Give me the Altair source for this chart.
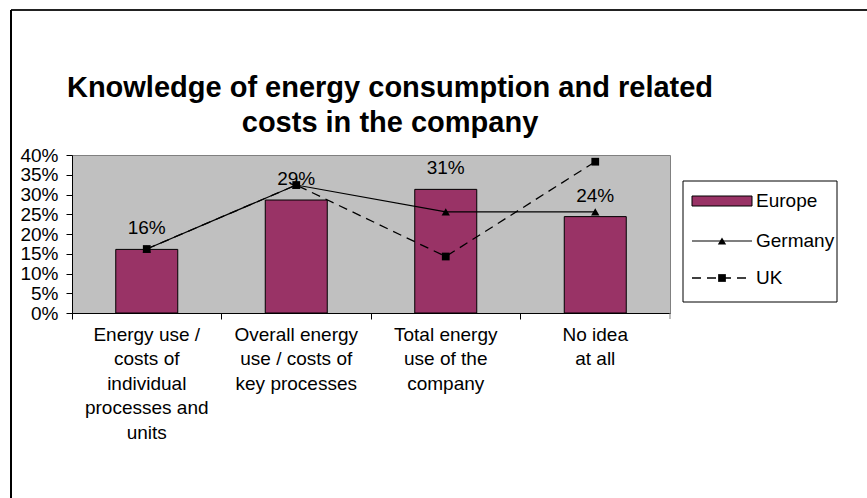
import altair as alt
import pandas as pd

categories = [
    "Energy use /\ncosts of\nindividual\nprocesses and\nunits",
    "Overall energy\nuse / costs of\nkey processes",
    "Total energy\nuse of the\ncompany",
    "No idea\nat all",
]
europe = [0.161, 0.286, 0.313, 0.244]
germany = [0.162, 0.324, 0.256, 0.256]
uk = [0.162, 0.324, 0.143, 0.383]
series_names = ["Europe", "Germany", "UK"]
title_lines = ["Knowledge of energy consumption and related", "costs  in the company"]
y_ticks = [0, 0.05, 0.10, 0.15, 0.20, 0.25, 0.30, 0.35, 0.40]

FONT = "Liberation Sans"
W, H = 598, 158

df_bar = pd.DataFrame({"cat": categories, "v": europe})
df_de = pd.DataFrame({"cat": categories, "v": germany})
df_uk = pd.DataFrame({"cat": categories, "v": uk})

xaxis = alt.Axis(
    title=None,
    labelAngle=0,
    labelExpr="split(datum.label, '\\n')",
    labelFont=FONT,
    labelFontSize=19,
    labelColor="#000000",
    labelLineHeight=24.5,
    labelPadding=6,
    labelLimit=200,
    bandPosition=0,
    tickSize=6,
    tickColor="#000000",
    domainColor="#000000",
    grid=False,
)
xscale = alt.Scale(domain=categories, paddingInner=0, paddingOuter=0)
xenc = alt.X("cat:N", sort=categories, scale=xscale, axis=xaxis)

yaxis = alt.Axis(
    title=None,
    values=y_ticks,
    format=".0%",
    labelFont=FONT,
    labelFontSize=19,
    labelColor="#000000",
    labelPadding=8,
    labelOverlap=False,
    labelFlush=False,
    tickSize=6,
    tickColor="#000000",
    domainColor="#000000",
    grid=False,
)
yscale = alt.Scale(domain=[0, 0.4], nice=False, zero=True)
yenc = alt.Y("v:Q", scale=yscale, axis=yaxis)

bars = alt.Chart(df_bar).mark_bar(
    size=62, color="#993366", stroke="#000000", strokeWidth=1
).encode(x=xenc, y=yenc)

bar_labels = alt.Chart(df_bar).mark_text(
    font=FONT, fontSize=19, baseline="middle", dy=-21, color="#000000"
).encode(x=xenc, y=yenc, text=alt.Text("v:Q", format=".0%"))

de_line = alt.Chart(df_de).mark_line(color="#000000", strokeWidth=1.2).encode(x=xenc, y=yenc)
de_pts = alt.Chart(df_de).mark_point(
    shape="triangle-up", filled=True, color="#000000", size=70, opacity=1
).encode(x=xenc, y=yenc)

uk_line = alt.Chart(df_uk).mark_line(
    color="#000000", strokeWidth=1.3, strokeDash=[9, 6]
).encode(x=xenc, y=yenc)
uk_pts = alt.Chart(df_uk).mark_point(
    shape="square", filled=True, color="#000000", size=60, opacity=1
).encode(x=xenc, y=yenc)


def one_text(txt, x, y, **kw):
    return alt.Chart(pd.DataFrame({"t": [txt]})).mark_text(
        font=FONT, color="#000000", baseline="middle", **kw
    ).encode(x=alt.value(x), y=alt.value(y), text="t:N")


# Title
title1 = one_text(title_lines[0], 318, -67, fontSize=29, fontWeight="bold", align="center")
title2 = one_text(title_lines[1], 318, -32, fontSize=29, fontWeight="bold", align="center")

one = pd.DataFrame({"a": [0]})

# Outer frame (cropped border)
frame_top = alt.Chart(one).mark_rule(color="#222222", strokeWidth=2).encode(
    x=alt.value(-61), x2=alt.value(800), y=alt.value(-145)
)
frame_left = alt.Chart(one).mark_rule(color="#000000", strokeWidth=2).encode(
    x=alt.value(-61), y=alt.value(-145), y2=alt.value(345)
)

# Right-end x tick
end_tick = alt.Chart(one).mark_rule(color="#808080", strokeWidth=1).encode(
    x=alt.value(W), y=alt.value(H), y2=alt.value(H + 6)
)

# Legend
leg_box = alt.Chart(one).mark_rect(fill="#ffffff", stroke="#000000", strokeWidth=1).encode(
    x=alt.value(611), x2=alt.value(765), y=alt.value(26), y2=alt.value(147)
)
leg_sw = alt.Chart(one).mark_rect(fill="#993366", stroke="#000000", strokeWidth=1).encode(
    x=alt.value(620), x2=alt.value(680), y=alt.value(41), y2=alt.value(51)
)
leg_de_line = alt.Chart(one).mark_rule(color="#000000", strokeWidth=1.2).encode(
    x=alt.value(620), x2=alt.value(680), y=alt.value(86)
)
leg_de_pt = alt.Chart(one).mark_point(
    shape="triangle-up", filled=True, color="#000000", size=70, opacity=1
).encode(x=alt.value(650), y=alt.value(86))
leg_uk_line = alt.Chart(one).mark_rule(color="#000000", strokeWidth=1.3, strokeDash=[9, 6]).encode(
    x=alt.value(620), x2=alt.value(680), y=alt.value(123)
)
leg_uk_pt = alt.Chart(one).mark_point(
    shape="square", filled=True, color="#000000", size=60, opacity=1
).encode(x=alt.value(650), y=alt.value(123))
leg_t1 = one_text(series_names[0], 684, 46, fontSize=19, align="left")
leg_t2 = one_text(series_names[1], 684, 86, fontSize=19, align="left")
leg_t3 = one_text(series_names[2], 684, 123, fontSize=19, align="left")

chart = alt.layer(
    bars, bar_labels, de_line, uk_line, de_pts, uk_pts,
    title1, title2, frame_top, frame_left, end_tick,
    leg_box, leg_sw, leg_de_line, leg_de_pt, leg_uk_line, leg_uk_pt,
    leg_t1, leg_t2, leg_t3,
).properties(
    width=W,
    height=H,
    autosize=alt.AutoSizeParams(type="none"),
    padding={"left": 72, "top": 155, "right": 197, "bottom": 185},
    background="#ffffff",
).configure_view(
    fill="#C0C0C0", stroke="#808080", strokeWidth=1
).configure_axisY(labelOverlap=False)

chart.save("out.html", embed_options={"renderer": "svg", "actions": False})
